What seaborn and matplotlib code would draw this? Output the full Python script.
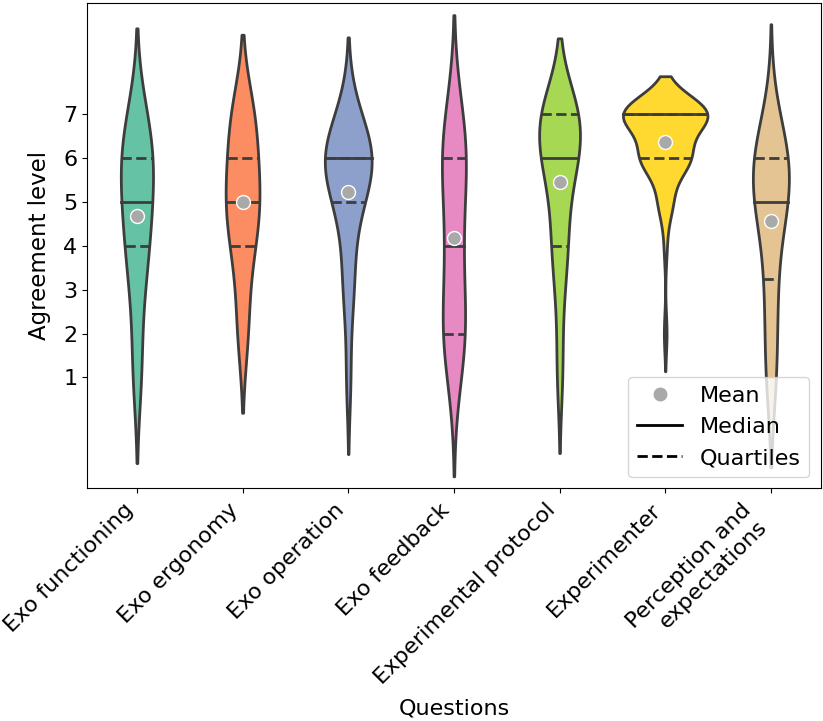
import matplotlib
matplotlib.use("Agg")
import matplotlib.pyplot as plt
from matplotlib.lines import Line2D
import numpy as np
import pandas as pd
import seaborn as sns

questions = ["Exo functioning", "Exo ergonomy", "Exo operation", "Exo feedback",
             "Experimental protocol", "Experimenter", "Perception and\nexpectations"]

# number of answers for each Likert level 1..7
levels = [1, 2, 3, 4, 5, 6, 7]
exo_functioning = [2, 1, 2, 4, 4, 6, 3]
exo_ergonomy = [0, 2, 1, 3, 5, 3, 4]
exo_operation = [1, 0, 2, 1, 3, 9, 2]
exo_feedback = [1, 5, 1, 3, 1, 5, 2]
exp_protocol = [2, 1, 2, 5, 3, 10, 13]
experimenter = [0, 1, 0, 1, 5, 17, 30]
perception = [2, 1, 2, 1, 5, 6, 1]

counts = [exo_functioning, exo_ergonomy, exo_operation, exo_feedback,
          exp_protocol, experimenter, perception]

frames = []
for q, c in zip(questions, counts):
    frames.append(pd.DataFrame({"question": q, "score": np.repeat(levels, c)}))
df = pd.concat(frames, ignore_index=True)

fig, ax = plt.subplots(figsize=(8.23, 7.21), dpi=100)
fig.subplots_adjust(left=0.106, right=0.997, top=0.996, bottom=0.323)

edge = "#3d3d3d"
sns.violinplot(data=df, x="question", y="score", hue="question", order=questions,
               palette="Set2", saturation=1, inner="quart", linewidth=2,
               linecolor=edge, common_norm=True, legend=False, ax=ax)

# q25 / median / q75 per violin: median solid, quartiles dashed
for i, line in enumerate(ax.lines):
    line.set_color(edge)
    line.set_linestyle("-" if i % 3 == 1 else "--")

sns.pointplot(data=df, x="question", y="score", order=questions, estimator="mean",
              errorbar=None, linestyle="none", marker="o", color="darkgray",
              markersize=10, markeredgecolor="white", markeredgewidth=1, ax=ax)
for line in ax.lines[21:]:
    line.set_zorder(5)

ax.set_xlim(-0.47, 6.47)
ax.set_ylim(-1.52, 9.53)
ax.set_yticks(levels)
ax.tick_params(labelsize=16)
ax.tick_params(axis="x", pad=5)
plt.setp(ax.get_xticklabels(), rotation=45, ha="right")
ax.set_xlabel("Questions", fontsize=16, labelpad=7)
ax.set_ylabel("Agreement level", fontsize=16.5, labelpad=9)

handles = [Line2D([], [], marker="o", ls="", color="darkgray", markersize=9),
           Line2D([], [], color="black", lw=2),
           Line2D([], [], color="black", lw=2, ls="--")]
ax.legend(handles, ["Mean", "Median", "Quartiles"], loc="lower right", fontsize=16)

fig.savefig("out.png", dpi=100)
